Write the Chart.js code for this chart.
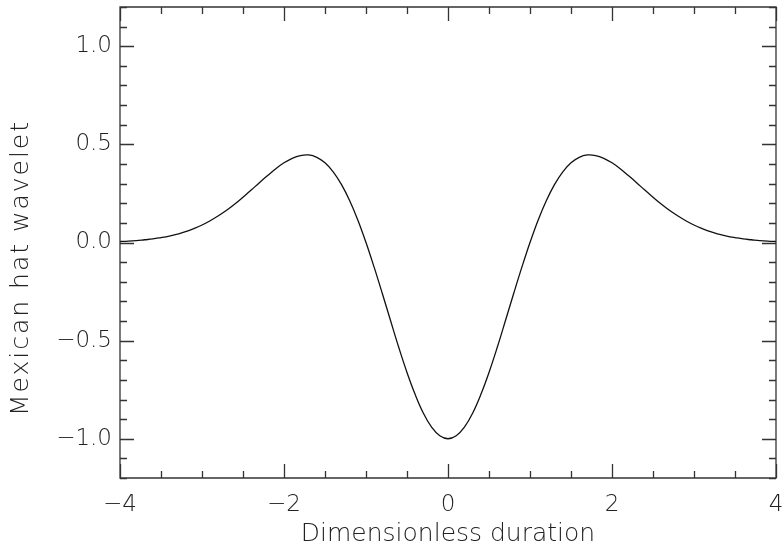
<!DOCTYPE html>
<html><head><meta charset="utf-8">
<script src="https://cdn.jsdelivr.net/npm/chart.js@4/dist/chart.umd.min.js"></script>
<style>html,body{margin:0;padding:0;background:#fff}#wrap{width:782px;height:549px}</style>
</head><body><div id="wrap"><canvas id="c" width="782" height="549"></canvas></div>
<script>
// duration (x) values
const durations = [-4.0,-3.9,-3.8,-3.7,-3.6,-3.5,-3.4,-3.3,-3.2,-3.1,-3.0,-2.9,-2.8,-2.7,-2.6,-2.5,-2.4,-2.3,-2.2,-2.1,-2.0,-1.9,-1.8,-1.7,-1.6,-1.5,-1.4,-1.3,-1.2,-1.1,-1.0,-0.9,-0.8,-0.7,-0.6,-0.5,-0.4,-0.3,-0.2,-0.1,0.0,0.1,0.2,0.3,0.4,0.5,0.6,0.7,0.8,0.9,1.0,1.1,1.2,1.3,1.4,1.5,1.6,1.7,1.8,1.9,2.0,2.1,2.2,2.3,2.4,2.5,2.6,2.7,2.8,2.9,3.0,3.1,3.2,3.3,3.4,3.5,3.6,3.7,3.8,3.9,4.0];
// wavelet values
const wavelet = [0.005,0.007,0.010,0.014,0.018,0.025,0.033,0.043,0.055,0.071,0.089,0.111,0.136,0.164,0.196,0.231,0.267,0.305,0.341,0.376,0.406,0.429,0.443,0.446,0.434,0.406,0.360,0.296,0.214,0.115,0.000,-0.127,-0.261,-0.399,-0.535,-0.662,-0.775,-0.870,-0.941,-0.985,-1.000,-0.985,-0.941,-0.870,-0.775,-0.662,-0.535,-0.399,-0.261,-0.127,0.000,0.115,0.214,0.296,0.360,0.406,0.434,0.446,0.443,0.429,0.406,0.376,0.341,0.305,0.267,0.231,0.196,0.164,0.136,0.111,0.089,0.071,0.055,0.043,0.033,0.025,0.018,0.014,0.010,0.007,0.005];
const xTicks = [-4,-2,0,2,4];
const yTicks = [-1.0,-0.5,0.0,0.5,1.0];
const xMinor = [-4,-3.5,-3,-2.5,-2,-1.5,-1,-0.5,0,0.5,1,1.5,2,2.5,3,3.5,4];
const yMinor = [-1.2,-1.1,-1.0,-0.9,-0.8,-0.7,-0.6,-0.5,-0.4,-0.3,-0.2,-0.1,0.0,0.1,0.2,0.3,0.4,0.5,0.6,0.7,0.8,0.9,1.0,1.1,1.2];
const xTitle = "Dimensionless duration";
const yTitle = "Mexican hat wavelet";

const AX = '#333';
const TXT = '#222';
const TICKFONT = {family: "'DejaVu Sans', sans-serif", size: 23, weight: 300};
const TITLEFONT = {family: "'DejaVu Sans', sans-serif", size: 25, weight: 300};
const fmt = v => {
  const s = (Math.abs(v) < 1e-9) ? '0' : String(Math.abs(v));
  return (v < -1e-9 ? '\u2212' : '') + s;
};
const fmtY = v => (v < -1e-9 ? '\u2212' : '') + Math.abs(v).toFixed(1);

const tickPlugin = {
  id: 'inTicks',
  afterDatasetsDraw(chart) {
    const {ctx, chartArea: a, scales: {x, y}} = chart;
    ctx.save();
    ctx.strokeStyle = AX;
    ctx.lineWidth = 1.3;
    ctx.beginPath();
    ctx.rect(a.left, a.top, a.right - a.left, a.bottom - a.top);
    const isMajorX = v => xTicks.some(t => Math.abs(t - v) < 1e-9);
    const isMajorY = v => yTicks.some(t => Math.abs(t - v) < 1e-9);
    xMinor.forEach(v => {
      const px = Math.round(x.getPixelForValue(v)) + 0.5;
      const len = isMajorX(v) ? 14 : 7;
      ctx.moveTo(px, a.bottom); ctx.lineTo(px, a.bottom - len);
      ctx.moveTo(px, a.top); ctx.lineTo(px, a.top + len);
    });
    yMinor.forEach(v => {
      const py = Math.round(y.getPixelForValue(v)) + 0.5;
      const len = isMajorY(v) ? 14 : 7;
      ctx.moveTo(a.left, py); ctx.lineTo(a.left + len, py);
      ctx.moveTo(a.right, py); ctx.lineTo(a.right - len, py);
    });
    ctx.stroke();
    // y-axis title
    ctx.fillStyle = TXT;
    ctx.font = `${TITLEFONT.weight} ${TITLEFONT.size}px ${TITLEFONT.family}`;
    if ('letterSpacing' in ctx) ctx.letterSpacing = '2px';
    ctx.textAlign = 'center';
    ctx.textBaseline = 'alphabetic';
    ctx.translate(28, 268);
    ctx.rotate(-Math.PI / 2);
    ctx.fillText(yTitle, 0, 0);
    ctx.restore();
  }
};

new Chart(document.getElementById('c'), {
  type: 'line',
  data: {
    datasets: [{
      data: durations.map((d, i) => ({x: d, y: wavelet[i]})),
      borderColor: '#111',
      borderWidth: 1.3,
      pointRadius: 0,
      tension: 0.4,
      fill: false
    }]
  },
  options: {
    responsive: false,
    animation: false,
    devicePixelRatio: 1,
    layout: {padding: {top: 7, right: 6, left: 0, bottom: 0}},
    plugins: {legend: {display: false}, tooltip: {enabled: false}},
    scales: {
      x: {
        type: 'linear', min: -4, max: 4,
        grid: {display: false, drawTicks: false},
        border: {display: false},
        afterBuildTicks: s => { s.ticks = xTicks.map(v => ({value: v})); },
        ticks: {callback: v => fmt(v), color: TXT, font: TICKFONT, padding: 13, maxRotation: 0, autoSkip: false},
        title: {display: true, text: xTitle, color: TXT, font: TITLEFONT, padding: {top: 0, bottom: 0}},
        afterFit: s => { s.height = 71; s.paddingLeft = 0; s.paddingRight = 0; }
      },
      y: {
        type: 'linear', min: -1.2, max: 1.2,
        grid: {display: false, drawTicks: false},
        border: {display: false},
        afterBuildTicks: s => { s.ticks = yTicks.map(v => ({value: v})); },
        ticks: {callback: v => fmtY(v), color: TXT, font: TICKFONT, padding: 8},
        title: {display: false},
        afterFit: s => { s.width = 120; s.paddingTop = 0; s.paddingBottom = 0; }
      }
    }
  },
  plugins: [tickPlugin]
});
</script>
</body></html>
